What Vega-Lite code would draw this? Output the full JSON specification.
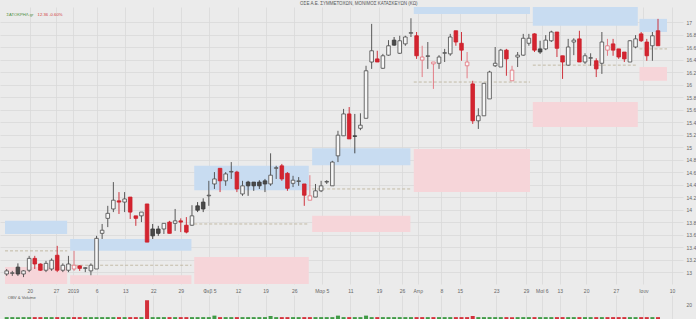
{
  "$schema": "https://vega.github.io/schema/vega-lite/v6.json",
  "background": "#ebebeb",
  "padding": 0,
  "spacing": 2,
  "config": {
    "view": {"stroke": null, "fill": "#ebebeb"},
    "font": "Liberation Sans",
    "axis": {"title": null, "labelFontSize": 5, "labelColor": "#666666", "labelPadding": 3, "labelOverlap": false, "labelFlush": false, "ticks": false, "domain": false, "grid": true, "gridColor": "#d9d9d9", "gridWidth": 0.8},
    "axisX": {"labelPadding": 4}
  },
  "title": {"text": "ΟΣΕ Α.Ε. ΣΥΜΜΕΤΟΧΩΝ, ΜΟΝΙΜΟΣ ΚΑΤΑΣΚΕΥΩΝ (ΚΩ)", "fontSize": 4.5, "fontWeight": "normal", "color": "#555555", "anchor": "middle", "offset": 2, "dx": 11},
  "datasets": {
    "candles": [
      {"i":0,"o":12.97,"h":13.05,"l":12.94,"c":13.02,"s":"+","v":2.5},
      {"i":1,"o":12.98,"h":13.02,"l":12.94,"c":12.99,"s":"+","v":2.5},
      {"i":2,"o":13.08,"h":13.14,"l":12.94,"c":12.97,"s":"+","v":2.5},
      {"i":3,"o":12.97,"h":13.03,"l":12.92,"c":13.02,"s":"+","v":2.5},
      {"i":4,"o":13.03,"h":13.26,"l":13.00,"c":13.22,"s":"+","v":2.5},
      {"i":5,"o":13.22,"h":13.26,"l":13.05,"c":13.13,"s":"-","v":2.5},
      {"i":6,"o":13.13,"h":13.14,"l":13.02,"c":13.03,"s":"-","v":2.5},
      {"i":7,"o":13.03,"h":13.18,"l":13.00,"c":13.14,"s":"+","v":2.5},
      {"i":8,"o":13.05,"h":13.22,"l":13.02,"c":13.19,"s":"+","v":2.5},
      {"i":9,"o":13.27,"h":13.42,"l":13.00,"c":13.03,"s":"-","v":2.5},
      {"i":10,"o":13.03,"h":13.14,"l":13.00,"c":13.11,"s":"+","v":2.5},
      {"i":11,"o":13.03,"h":13.26,"l":13.00,"c":13.13,"s":"+","v":2.5},
      {"i":12,"o":13.05,"h":13.34,"l":13.02,"c":13.11,"s":"-","v":2.5},
      {"i":13,"o":13.10,"h":13.11,"l":13.02,"c":13.06,"s":"-","v":2.5},
      {"i":14,"o":13.06,"h":13.08,"l":13.00,"c":13.07,"s":"+","v":2.5},
      {"i":15,"o":13.02,"h":13.14,"l":12.95,"c":13.11,"s":"+","v":2.5},
      {"i":16,"o":13.05,"h":13.58,"l":13.05,"c":13.54,"s":"+","v":2.5},
      {"i":17,"o":13.62,"h":13.77,"l":13.53,"c":13.67,"s":"+","v":2.5},
      {"i":18,"o":13.86,"h":14.06,"l":13.72,"c":13.94,"s":"+","v":2.5},
      {"i":19,"o":14.01,"h":14.44,"l":13.96,"c":14.15,"s":"+","v":2.5},
      {"i":20,"o":14.14,"h":14.28,"l":13.93,"c":14.12,"s":"-","v":2.5},
      {"i":21,"o":14.12,"h":14.28,"l":13.96,"c":14.17,"s":"+","v":2.5},
      {"i":22,"o":14.20,"h":14.20,"l":13.85,"c":13.96,"s":"-","v":2.5},
      {"i":23,"o":13.90,"h":13.90,"l":13.74,"c":13.86,"s":"-","v":2.5},
      {"i":24,"o":13.90,"h":13.96,"l":13.80,"c":13.96,"s":"+","v":2.5},
      {"i":25,"o":14.09,"h":14.09,"l":13.48,"c":13.48,"s":"-","v":25},
      {"i":26,"o":13.69,"h":13.77,"l":13.53,"c":13.58,"s":"+","v":2.5},
      {"i":27,"o":13.69,"h":13.74,"l":13.58,"c":13.62,"s":"+","v":2.5},
      {"i":28,"o":13.69,"h":13.78,"l":13.61,"c":13.78,"s":"+","v":2.5},
      {"i":29,"o":13.80,"h":13.82,"l":13.62,"c":13.62,"s":"-","v":2.5},
      {"i":30,"o":13.78,"h":14.01,"l":13.66,"c":13.82,"s":"+","v":2.5},
      {"i":31,"o":13.82,"h":13.86,"l":13.64,"c":13.80,"s":"-","v":2.5},
      {"i":32,"o":13.75,"h":13.88,"l":13.62,"c":13.64,"s":"-","v":2.5},
      {"i":33,"o":13.75,"h":14.07,"l":13.74,"c":13.90,"s":"+","v":2.5},
      {"i":34,"o":14.06,"h":14.12,"l":13.96,"c":13.99,"s":"+","v":2.5},
      {"i":35,"o":14.12,"h":14.18,"l":13.96,"c":14.01,"s":"+","v":2.5},
      {"i":36,"o":14.22,"h":14.46,"l":14.06,"c":14.23,"s":"+","v":2.5},
      {"i":37,"o":14.41,"h":14.60,"l":14.33,"c":14.49,"s":"+","v":4.5},
      {"i":38,"o":14.66,"h":14.66,"l":14.28,"c":14.46,"s":"-","v":2.5},
      {"i":39,"o":14.46,"h":14.60,"l":14.38,"c":14.57,"s":"+","v":2.5},
      {"i":40,"o":14.60,"h":14.76,"l":14.49,"c":14.61,"s":"+","v":2.5},
      {"i":41,"o":14.60,"h":14.62,"l":14.28,"c":14.33,"s":"-","v":2.5},
      {"i":42,"o":14.25,"h":14.46,"l":14.22,"c":14.38,"s":"+","v":2.5},
      {"i":43,"o":14.44,"h":14.46,"l":14.22,"c":14.38,"s":"+","v":2.5},
      {"i":44,"o":14.44,"h":14.44,"l":14.30,"c":14.38,"s":"+","v":2.5},
      {"i":45,"o":14.44,"h":14.47,"l":14.33,"c":14.38,"s":"+","v":2.5},
      {"i":46,"o":14.46,"h":14.49,"l":14.28,"c":14.41,"s":"+","v":2.5},
      {"i":47,"o":14.41,"h":14.90,"l":14.38,"c":14.55,"s":"+","v":4},
      {"i":48,"o":14.66,"h":14.70,"l":14.49,"c":14.67,"s":"+","v":2.5},
      {"i":49,"o":14.70,"h":14.73,"l":14.46,"c":14.49,"s":"-","v":2.5},
      {"i":50,"o":14.58,"h":14.60,"l":14.30,"c":14.34,"s":"-","v":2.5},
      {"i":51,"o":14.42,"h":14.54,"l":14.36,"c":14.47,"s":"+","v":2.5},
      {"i":52,"o":14.45,"h":14.52,"l":14.38,"c":14.46,"s":"+","v":2.5},
      {"i":53,"o":14.41,"h":14.41,"l":14.06,"c":14.23,"s":"-","v":2.5},
      {"i":54,"o":14.15,"h":14.55,"l":14.15,"c":14.22,"s":"-","v":2.5},
      {"i":55,"o":14.20,"h":14.41,"l":14.20,"c":14.30,"s":"+","v":2.5},
      {"i":56,"o":14.30,"h":14.46,"l":14.28,"c":14.38,"s":"+","v":2.5},
      {"i":57,"o":14.44,"h":14.47,"l":14.41,"c":14.45,"s":"+","v":2.5},
      {"i":58,"o":14.38,"h":14.78,"l":14.38,"c":14.76,"s":"+","v":2.5},
      {"i":59,"o":14.86,"h":15.26,"l":14.76,"c":15.19,"s":"+","v":4.5},
      {"i":60,"o":15.18,"h":15.61,"l":15.18,"c":15.53,"s":"+","v":2.5},
      {"i":61,"o":15.53,"h":15.64,"l":15.13,"c":15.13,"s":"-","v":2.5},
      {"i":62,"o":15.18,"h":15.53,"l":14.90,"c":15.17,"s":"+","v":2.5},
      {"i":63,"o":15.30,"h":15.54,"l":15.27,"c":15.35,"s":"+","v":2.5},
      {"i":64,"o":15.46,"h":16.30,"l":15.46,"c":16.22,"s":"+","v":4.5},
      {"i":65,"o":16.36,"h":16.97,"l":16.25,"c":16.54,"s":"+","v":2.5},
      {"i":66,"o":16.41,"h":16.54,"l":16.36,"c":16.36,"s":"-","v":2.5},
      {"i":67,"o":16.26,"h":16.49,"l":16.25,"c":16.46,"s":"+","v":2.5},
      {"i":68,"o":16.47,"h":16.71,"l":16.46,"c":16.62,"s":"+","v":2.5},
      {"i":69,"o":16.71,"h":16.76,"l":16.62,"c":16.63,"s":"+","v":2.5},
      {"i":70,"o":16.50,"h":16.78,"l":16.49,"c":16.70,"s":"+","v":2.5},
      {"i":71,"o":16.65,"h":16.78,"l":16.62,"c":16.76,"s":"+","v":2.5},
      {"i":72,"o":16.82,"h":17.06,"l":16.76,"c":16.83,"s":"+","v":2.5},
      {"i":73,"o":16.78,"h":16.84,"l":16.41,"c":16.46,"s":"-","v":2.5},
      {"i":74,"o":16.39,"h":16.62,"l":16.12,"c":16.44,"s":"-","v":2.5},
      {"i":75,"o":16.45,"h":16.68,"l":16.25,"c":16.46,"s":"+","v":2.5},
      {"i":76,"o":16.33,"h":16.36,"l":15.93,"c":16.36,"s":"-","v":2.5},
      {"i":77,"o":16.34,"h":16.47,"l":16.25,"c":16.44,"s":"+","v":2.5},
      {"i":78,"o":16.50,"h":16.57,"l":16.36,"c":16.51,"s":"+","v":2.5},
      {"i":79,"o":16.49,"h":16.81,"l":16.46,"c":16.76,"s":"+","v":2.5},
      {"i":80,"o":16.86,"h":16.86,"l":16.62,"c":16.68,"s":"-","v":2.5},
      {"i":81,"o":16.66,"h":16.84,"l":16.38,"c":16.55,"s":"-","v":2.5},
      {"i":82,"o":16.30,"h":16.52,"l":16.10,"c":16.36,"s":"-","v":2.5},
      {"i":83,"o":16.01,"h":16.06,"l":15.37,"c":15.42,"s":"-","v":4},
      {"i":84,"o":15.42,"h":15.62,"l":15.29,"c":15.50,"s":"+","v":2.5},
      {"i":85,"o":15.50,"h":16.02,"l":15.50,"c":16.02,"s":"+","v":2.5},
      {"i":86,"o":15.77,"h":16.22,"l":15.77,"c":16.20,"s":"+","v":2.5},
      {"i":87,"o":16.30,"h":16.60,"l":16.28,"c":16.34,"s":"+","v":2.5},
      {"i":88,"o":16.28,"h":16.57,"l":16.28,"c":16.55,"s":"+","v":2.5},
      {"i":89,"o":16.55,"h":16.57,"l":16.14,"c":16.41,"s":"-","v":2.5},
      {"i":90,"o":16.06,"h":16.30,"l":16.06,"c":16.23,"s":"-","v":2.5},
      {"i":91,"o":16.44,"h":16.52,"l":16.28,"c":16.47,"s":"+","v":2.5},
      {"i":92,"o":16.47,"h":16.81,"l":16.46,"c":16.74,"s":"+","v":2.5},
      {"i":93,"o":16.66,"h":16.81,"l":16.62,"c":16.74,"s":"+","v":2.5},
      {"i":94,"o":16.81,"h":16.82,"l":16.52,"c":16.55,"s":"-","v":2.5},
      {"i":95,"o":16.57,"h":16.70,"l":16.49,"c":16.52,"s":"+","v":2.5},
      {"i":96,"o":16.57,"h":16.79,"l":16.55,"c":16.71,"s":"+","v":2.5},
      {"i":97,"o":16.70,"h":16.86,"l":16.68,"c":16.84,"s":"+","v":2.5},
      {"i":98,"o":16.84,"h":16.84,"l":16.44,"c":16.58,"s":"-","v":2.5},
      {"i":99,"o":16.46,"h":16.46,"l":16.09,"c":16.36,"s":"-","v":2.5},
      {"i":100,"o":16.31,"h":16.73,"l":16.30,"c":16.60,"s":"+","v":2.5},
      {"i":101,"o":16.68,"h":16.74,"l":16.47,"c":16.71,"s":"+","v":2.5},
      {"i":102,"o":16.73,"h":16.86,"l":16.36,"c":16.36,"s":"-","v":2.5},
      {"i":103,"o":16.36,"h":16.50,"l":16.33,"c":16.46,"s":"+","v":2.5},
      {"i":104,"o":16.42,"h":16.50,"l":16.30,"c":16.43,"s":"+","v":2.5},
      {"i":105,"o":16.38,"h":16.42,"l":16.12,"c":16.25,"s":"-","v":2.5},
      {"i":106,"o":16.34,"h":16.84,"l":16.17,"c":16.68,"s":"+","v":2.5},
      {"i":107,"o":16.55,"h":16.73,"l":16.46,"c":16.62,"s":"-","v":2.5},
      {"i":108,"o":16.65,"h":16.73,"l":16.46,"c":16.55,"s":"-","v":2.5},
      {"i":109,"o":16.57,"h":16.57,"l":16.41,"c":16.44,"s":"-","v":2.5},
      {"i":110,"o":16.52,"h":16.52,"l":16.36,"c":16.41,"s":"-","v":2.5},
      {"i":111,"o":16.36,"h":16.71,"l":16.36,"c":16.70,"s":"+","v":2.5},
      {"i":112,"o":16.60,"h":16.79,"l":16.58,"c":16.73,"s":"+","v":2.5},
      {"i":113,"o":16.81,"h":16.84,"l":16.68,"c":16.70,"s":"-","v":2.5},
      {"i":114,"o":16.68,"h":16.73,"l":16.38,"c":16.46,"s":"-","v":2.5},
      {"i":115,"o":16.62,"h":16.84,"l":16.38,"c":16.78,"s":"+","v":2.5},
      {"i":116,"o":16.86,"h":17.05,"l":16.62,"c":16.62,"s":"-","v":2.5}
    ],
    "zones": [
      {"a":-0.3,"b":10.77,"lo":13.61,"hi":13.82,"t":"R"},
      {"a":11.3,"b":32.9,"lo":13.34,"hi":13.53,"t":"R"},
      {"a":33.4,"b":53.8,"lo":14.31,"hi":14.70,"t":"R"},
      {"a":54.4,"b":71.9,"lo":14.71,"hi":14.98,"t":"R"},
      {"a":72.5,"b":93.2,"lo":17.13,"hi":17.3,"t":"R"},
      {"a":93.7,"b":112.4,"lo":16.94,"hi":17.3,"t":"R"},
      {"a":112.7,"b":117.6,"lo":16.84,"hi":17.05,"t":"R"},
      {"a":-0.3,"b":10.77,"lo":12.7,"hi":13.08,"t":"S"},
      {"a":11.3,"b":32.9,"lo":12.7,"hi":12.95,"t":"S"},
      {"a":33.4,"b":53.8,"lo":12.7,"hi":13.24,"t":"S"},
      {"a":54.4,"b":71.9,"lo":13.64,"hi":13.90,"t":"S"},
      {"a":72.5,"b":93.2,"lo":14.28,"hi":14.97,"t":"S"},
      {"a":93.7,"b":112.4,"lo":15.32,"hi":15.72,"t":"S"},
      {"a":112.7,"b":117.6,"lo":16.06,"hi":16.28,"t":"S"}
    ],
    "lines": [
      {"a":-0.3,"b":10.77,"p":13.34},
      {"a":11.3,"b":32.9,"p":13.11},
      {"a":33.4,"b":53.8,"p":13.77},
      {"a":54.4,"b":71.9,"p":14.33},
      {"a":72.5,"b":93.2,"p":16.04},
      {"a":93.7,"b":112.4,"p":16.31},
      {"a":112.7,"b":117.6,"p":16.57}
    ]
  },
  "resolve": {"scale": {"x": "independent", "y": "independent", "color": "independent", "fill": "independent", "stroke": "independent"}},
  "vconcat": [
    {
      "width": 683,
      "height": 277,
      "layer": [
        {
          "data": {"name": "zones"},
          "mark": {"type": "rect", "clip": true},
          "encoding": {
            "x": {"field": "a", "type": "quantitative", "scale": {"domain": [-0.3, 119.56], "nice": false, "zero": false},
              "axis": {"values": [4.1, 8.8, 11.8, 16.0, 21.1, 26.1, 31.0, 36.1, 41.2, 46.1, 51.2, 56.1, 61.2, 66.3, 70.4, 73.2, 77.4, 80.7, 87.2, 92.5, 95.3, 98.5, 103.2, 108.5, 113.4, 118.5],
                "labelExpr": "['20','27','2019','6','13','22','29','Φεβ 5','12','19','26','Μαρ 5','11','19','26','Απρ','8','15','23','29','Μαϊ 6','13','20','27','Ιουν','10'][indexof([4.1, 8.8, 11.8, 16.0, 21.1, 26.1, 31.0, 36.1, 41.2, 46.1, 51.2, 56.1, 61.2, 66.3, 70.4, 73.2, 77.4, 80.7, 87.2, 92.5, 95.3, 98.5, 103.2, 108.5, 113.4, 118.5], datum.value)]"}},
            "x2": {"field": "b"},
            "y": {"field": "lo", "type": "quantitative", "scale": {"domain": [12.81, 17.24], "nice": false, "zero": false},
              "axis": {"orient": "right", "format": "~g", "values": [13, 13.2, 13.4, 13.6, 13.8, 14, 14.2, 14.4, 14.6, 14.8, 15, 15.2, 15.4, 15.6, 15.8, 16, 16.2, 16.4, 16.6, 16.8, 17]}},
            "y2": {"field": "hi"},
            "color": {"field": "t", "type": "nominal", "scale": {"domain": ["R", "S"], "range": ["#c8dcf1", "#f6d5d9"]}, "legend": null}
          }
        },
        {
          "data": {"name": "lines"},
          "mark": {"type": "rule", "strokeDash": [3, 2], "strokeWidth": 0.8, "color": "#b9ae94"},
          "encoding": {
            "x": {"field": "a", "type": "quantitative", "scale": {"domain": [-0.3, 119.56], "nice": false, "zero": false},
              "axis": {"values": [4.1, 8.8, 11.8, 16.0, 21.1, 26.1, 31.0, 36.1, 41.2, 46.1, 51.2, 56.1, 61.2, 66.3, 70.4, 73.2, 77.4, 80.7, 87.2, 92.5, 95.3, 98.5, 103.2, 108.5, 113.4, 118.5],
                "labelExpr": "['20','27','2019','6','13','22','29','Φεβ 5','12','19','26','Μαρ 5','11','19','26','Απρ','8','15','23','29','Μαϊ 6','13','20','27','Ιουν','10'][indexof([4.1, 8.8, 11.8, 16.0, 21.1, 26.1, 31.0, 36.1, 41.2, 46.1, 51.2, 56.1, 61.2, 66.3, 70.4, 73.2, 77.4, 80.7, 87.2, 92.5, 95.3, 98.5, 103.2, 108.5, 113.4, 118.5], datum.value)]"}},
            "x2": {"field": "b"},
            "y": {"field": "p", "type": "quantitative", "scale": {"domain": [12.81, 17.24], "nice": false, "zero": false},
              "axis": {"orient": "right", "format": "~g", "values": [13, 13.2, 13.4, 13.6, 13.8, 14, 14.2, 14.4, 14.6, 14.8, 15, 15.2, 15.4, 15.6, 15.8, 16, 16.2, 16.4, 16.6, 16.8, 17]}}
          }
        },
        {
          "data": {"name": "candles"},
          "transform": [
            {"calculate": "datum.c > datum.o ? (datum.s == '+' ? 'U' : 'UP') : (datum.s == '+' ? 'DK' : 'D')", "as": "k"}
          ],
          "mark": {"type": "rule", "strokeWidth": 0.9},
          "encoding": {
            "x": {"field": "i", "type": "quantitative", "scale": {"domain": [-0.3, 119.56], "nice": false, "zero": false},
              "axis": {"values": [4.1, 8.8, 11.8, 16.0, 21.1, 26.1, 31.0, 36.1, 41.2, 46.1, 51.2, 56.1, 61.2, 66.3, 70.4, 73.2, 77.4, 80.7, 87.2, 92.5, 95.3, 98.5, 103.2, 108.5, 113.4, 118.5],
                "labelExpr": "['20','27','2019','6','13','22','29','Φεβ 5','12','19','26','Μαρ 5','11','19','26','Απρ','8','15','23','29','Μαϊ 6','13','20','27','Ιουν','10'][indexof([4.1, 8.8, 11.8, 16.0, 21.1, 26.1, 31.0, 36.1, 41.2, 46.1, 51.2, 56.1, 61.2, 66.3, 70.4, 73.2, 77.4, 80.7, 87.2, 92.5, 95.3, 98.5, 103.2, 108.5, 113.4, 118.5], datum.value)]"}},
            "y": {"field": "l", "type": "quantitative", "scale": {"domain": [12.81, 17.24], "nice": false, "zero": false},
              "axis": {"orient": "right", "format": "~g", "values": [13, 13.2, 13.4, 13.6, 13.8, 14, 14.2, 14.4, 14.6, 14.8, 15, 15.2, 15.4, 15.6, 15.8, 16, 16.2, 16.4, 16.6, 16.8, 17]}},
            "y2": {"field": "h"},
            "stroke": {"field": "k", "type": "nominal", "scale": {"domain": ["U", "UP", "DK", "D"], "range": ["#4a4a4a", "#e2707a", "#3a3a3a", "#cc1f2a"]}, "legend": null}
          }
        },
        {
          "data": {"name": "candles"},
          "transform": [
            {"calculate": "datum.c > datum.o ? (datum.s == '+' ? 'U' : 'UP') : (datum.s == '+' ? 'DK' : 'D')", "as": "k"}
          ],
          "mark": {"type": "bar", "size": 3.6, "strokeWidth": 0.8},
          "encoding": {
            "x": {"field": "i", "type": "quantitative", "scale": {"domain": [-0.3, 119.56], "nice": false, "zero": false},
              "axis": {"values": [4.1, 8.8, 11.8, 16.0, 21.1, 26.1, 31.0, 36.1, 41.2, 46.1, 51.2, 56.1, 61.2, 66.3, 70.4, 73.2, 77.4, 80.7, 87.2, 92.5, 95.3, 98.5, 103.2, 108.5, 113.4, 118.5],
                "labelExpr": "['20','27','2019','6','13','22','29','Φεβ 5','12','19','26','Μαρ 5','11','19','26','Απρ','8','15','23','29','Μαϊ 6','13','20','27','Ιουν','10'][indexof([4.1, 8.8, 11.8, 16.0, 21.1, 26.1, 31.0, 36.1, 41.2, 46.1, 51.2, 56.1, 61.2, 66.3, 70.4, 73.2, 77.4, 80.7, 87.2, 92.5, 95.3, 98.5, 103.2, 108.5, 113.4, 118.5], datum.value)]"}},
            "y": {"field": "o", "type": "quantitative", "scale": {"domain": [12.81, 17.24], "nice": false, "zero": false},
              "axis": {"orient": "right", "format": "~g", "values": [13, 13.2, 13.4, 13.6, 13.8, 14, 14.2, 14.4, 14.6, 14.8, 15, 15.2, 15.4, 15.6, 15.8, 16, 16.2, 16.4, 16.6, 16.8, 17]}},
            "y2": {"field": "c"},
            "stroke": {"field": "k", "type": "nominal", "scale": {"domain": ["U", "UP", "DK", "D"], "range": ["#4a4a4a", "#e2707a", "#3a3a3a", "#cc1f2a"]}, "legend": null},
            "fill": {"field": "k", "type": "nominal", "scale": {"domain": ["U", "UP", "DK", "D"], "range": ["#f7f7f7", "#f7f7f7", "#4a4a4a", "#d42430"]}, "legend": null}
          }
        },
        {
          "data": {"values": [{"txt": "ΣΑΤΟΚΡΗΛ.gr"}]},
          "mark": {"type": "text", "align": "left", "baseline": "middle", "fontSize": 4.2, "color": "#4f8f3f"},
          "encoding": {
            "x": {"datum": -0.05, "type": "quantitative", "scale": {"domain": [-0.3, 119.56], "nice": false, "zero": false},
              "axis": {"values": [4.1, 8.8, 11.8, 16.0, 21.1, 26.1, 31.0, 36.1, 41.2, 46.1, 51.2, 56.1, 61.2, 66.3, 70.4, 73.2, 77.4, 80.7, 87.2, 92.5, 95.3, 98.5, 103.2, 108.5, 113.4, 118.5],
                "labelExpr": "['20','27','2019','6','13','22','29','Φεβ 5','12','19','26','Μαρ 5','11','19','26','Απρ','8','15','23','29','Μαϊ 6','13','20','27','Ιουν','10'][indexof([4.1, 8.8, 11.8, 16.0, 21.1, 26.1, 31.0, 36.1, 41.2, 46.1, 51.2, 56.1, 61.2, 66.3, 70.4, 73.2, 77.4, 80.7, 87.2, 92.5, 95.3, 98.5, 103.2, 108.5, 113.4, 118.5], datum.value)]"}},
            "y": {"datum": 17.12, "type": "quantitative", "scale": {"domain": [12.81, 17.24], "nice": false, "zero": false},
              "axis": {"orient": "right", "format": "~g", "values": [13, 13.2, 13.4, 13.6, 13.8, 14, 14.2, 14.4, 14.6, 14.8, 15, 15.2, 15.4, 15.6, 15.8, 16, 16.2, 16.4, 16.6, 16.8, 17]}},
            "text": {"field": "txt"}
          }
        },
        {
          "data": {"values": [{"txt": "12.36 -0.60%"}]},
          "mark": {"type": "text", "align": "left", "baseline": "middle", "fontSize": 4.2, "color": "#d23a3a"},
          "encoding": {
            "x": {"datum": 5.5, "type": "quantitative", "scale": {"domain": [-0.3, 119.56], "nice": false, "zero": false},
              "axis": {"values": [4.1, 8.8, 11.8, 16.0, 21.1, 26.1, 31.0, 36.1, 41.2, 46.1, 51.2, 56.1, 61.2, 66.3, 70.4, 73.2, 77.4, 80.7, 87.2, 92.5, 95.3, 98.5, 103.2, 108.5, 113.4, 118.5],
                "labelExpr": "['20','27','2019','6','13','22','29','Φεβ 5','12','19','26','Μαρ 5','11','19','26','Απρ','8','15','23','29','Μαϊ 6','13','20','27','Ιουν','10'][indexof([4.1, 8.8, 11.8, 16.0, 21.1, 26.1, 31.0, 36.1, 41.2, 46.1, 51.2, 56.1, 61.2, 66.3, 70.4, 73.2, 77.4, 80.7, 87.2, 92.5, 95.3, 98.5, 103.2, 108.5, 113.4, 118.5], datum.value)]"}},
            "y": {"datum": 17.12, "type": "quantitative", "scale": {"domain": [12.81, 17.24], "nice": false, "zero": false},
              "axis": {"orient": "right", "format": "~g", "values": [13, 13.2, 13.4, 13.6, 13.8, 14, 14.2, 14.4, 14.6, 14.8, 15, 15.2, 15.4, 15.6, 15.8, 16, 16.2, 16.4, 16.6, 16.8, 17]}},
            "text": {"field": "txt"}
          }
        }
      ]
    },
    {
      "width": 683,
      "height": 24,
      "layer": [
        {
          "data": {"name": "candles"},
          "mark": {"type": "bar", "size": 4},
          "encoding": {
            "x": {"field": "i", "type": "quantitative", "scale": {"domain": [-0.3, 119.56], "nice": false, "zero": false},
              "axis": {"values": [4.1, 8.8, 11.8, 16.0, 21.1, 26.1, 31.0, 36.1, 41.2, 46.1, 51.2, 56.1, 61.2, 66.3, 70.4, 73.2, 77.4, 80.7, 87.2, 92.5, 95.3, 98.5, 103.2, 108.5, 113.4, 118.5], "labels": false}},
            "y": {"field": "v", "type": "quantitative", "scale": {"domain": [0, 32], "nice": false},
              "axis": {"orient": "right", "values": [20], "grid": false}},
            "color": {"field": "s", "type": "nominal", "scale": {"domain": ["+", "-"], "range": ["#3f9a45", "#d3303a"]}, "legend": null}
          }
        },
        {
          "data": {"values": [{"txt": "OBV & Volume"}]},
          "mark": {"type": "text", "align": "left", "baseline": "middle", "fontSize": 4.2, "color": "#555555"},
          "encoding": {
            "x": {"datum": 0.2, "type": "quantitative", "scale": {"domain": [-0.3, 119.56], "nice": false, "zero": false},
              "axis": {"values": [4.1, 8.8, 11.8, 16.0, 21.1, 26.1, 31.0, 36.1, 41.2, 46.1, 51.2, 56.1, 61.2, 66.3, 70.4, 73.2, 77.4, 80.7, 87.2, 92.5, 95.3, 98.5, 103.2, 108.5, 113.4, 118.5], "labels": false}},
            "y": {"datum": 28, "type": "quantitative", "scale": {"domain": [0, 32], "nice": false},
              "axis": {"orient": "right", "values": [20], "grid": false}},
            "text": {"field": "txt"}
          }
        }
      ]
    }
  ]
}
